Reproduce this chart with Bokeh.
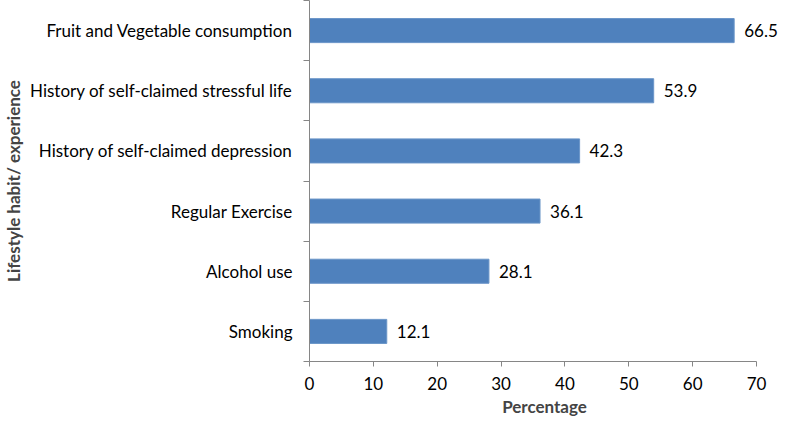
from bokeh.plotting import figure
from bokeh.models import Range1d, FixedTicker, ColumnDataSource, LabelSet
from bokeh.embed import file_html
from bokeh.resources import INLINE
from bokeh.core.properties import value

categories = ["Smoking", "Alcohol use", "Regular Exercise",
              "History of self-claimed depression",
              "History of self-claimed stressful life",
              "Fruit and Vegetable consumption"]
percent = [12.1, 28.1, 36.1, 42.3, 53.9, 66.5]
x_ticks = [0, 10, 20, 30, 40, 50, 60, 70]

FONT = "Lato"
FS = "17px"
pos = [i + 0.5 for i in range(len(categories))]
src = ColumnDataSource(dict(y=pos, v=percent, lab=[f"{v:.1f}" for v in percent]))

p = figure(width=779, height=419, output_backend="svg", toolbar_location=None, title=None,
           x_range=Range1d(0, 73.6), y_range=Range1d(0, len(categories)),
           min_border_left=300, min_border_right=0, min_border_top=0, min_border_bottom=0)
p.outline_line_color = None
p.grid.visible = False

p.hbar(y="y", right="v", left=0, height=0.4, source=src,
       fill_color="#4F81BD", line_color="#6a95c8", line_width=1)
p.add_layout(LabelSet(x="v", y="y", text="lab", source=src, x_offset=10, text_baseline="middle",
                      text_align="left", text_font=value(FONT), text_font_size=value(FS),
                      text_color="#000000"))

ya = p.yaxis[0]
ya.ticker = FixedTicker(ticks=pos, minor_ticks=list(range(len(categories) + 1)))
ya.major_label_overrides = {t: c for t, c in zip(pos, categories)}
ya.major_tick_line_color = None
ya.minor_tick_in = 0
ya.minor_tick_out = 6
ya.minor_tick_line_color = "#868686"
ya.axis_line_color = "#868686"
ya.major_label_text_font = FONT
ya.major_label_text_font_size = FS
ya.major_label_text_color = "#000000"
ya.major_label_standoff = 11
ya.axis_label = "Lifestyle habit/ experience"
ya.axis_label_text_font = FONT
ya.axis_label_text_font_style = "bold"
ya.axis_label_text_font_size = FS
ya.axis_label_standoff = 3

xa = p.xaxis[0]
xa.bounds = (x_ticks[0], x_ticks[-1])
xa.ticker = FixedTicker(ticks=x_ticks, minor_ticks=[])
xa.major_tick_in = 0
xa.major_tick_out = 5
xa.major_tick_line_color = "#868686"
xa.axis_line_color = "#868686"
xa.major_label_text_font = FONT
xa.major_label_text_font_size = FS
xa.major_label_text_color = "#000000"
xa.major_label_standoff = 10
xa.axis_label = "Percentage"
xa.axis_label_text_font = FONT
xa.axis_label_text_font_style = "bold"
xa.axis_label_text_font_size = FS
xa.axis_label_standoff = 3

open("out.html", "w").write(file_html(p, INLINE))
